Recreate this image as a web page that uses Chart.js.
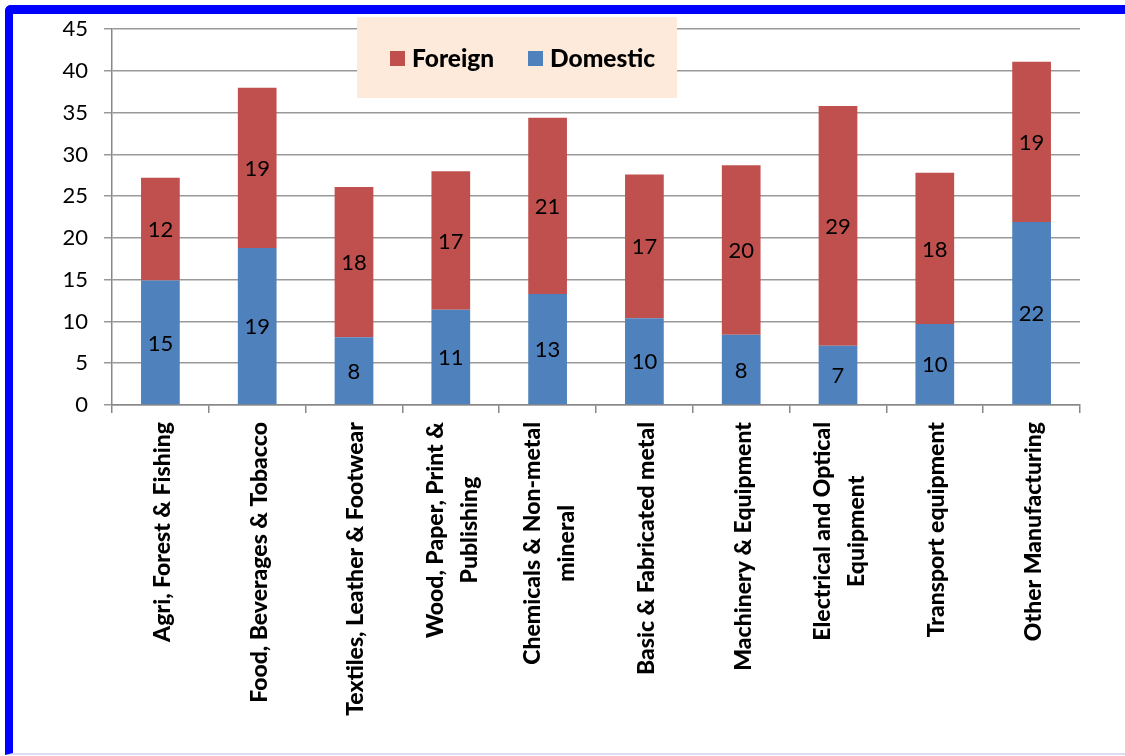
<!DOCTYPE html>
<html>
<head>
<meta charset="utf-8">
<script src="https://cdn.jsdelivr.net/npm/chart.js@4.4.1/dist/chart.umd.min.js"></script>
<style>
  html, body { margin: 0; padding: 0; background: #fff; }
  #wrap { position: relative; width: 1125px; height: 756px; overflow: hidden; }
  #frame { position: absolute; left: 5px; top: 5px; right: -20px; bottom: 1px;
           border-top: 9px solid #0000ff; border-left: 8px solid #0000ff;
           border-bottom: 2px solid #dcdcf5;
           border-top-left-radius: 6px; pointer-events: none; }
  canvas { position: absolute; left: 0; top: 0; }
</style>
</head>
<body>
<div id="wrap">
  <canvas id="c" width="1125" height="756"></canvas>
  <div id="frame"></div>
</div>
<script>
const categories = [
  ["Agri, Forest & Fishing"],
  ["Food, Beverages & Tobacco"],
  ["Textiles, Leather & Footwear"],
  ["Wood, Paper, Print &", "Publishing"],
  ["Chemicals & Non-metal", "mineral"],
  ["Basic & Fabricated metal"],
  ["Machinery & Equipment"],
  ["Electrical and Optical", "Equipment"],
  ["Transport equipment"],
  ["Other Manufacturing"]
];
const domestic = [14.9, 18.8, 8.1, 11.4, 13.3, 10.4, 8.4, 7.1, 9.7, 21.9];
const foreign  = [12.3, 19.2, 18.0, 16.6, 21.1, 17.2, 20.3, 28.7, 18.1, 19.2];
const seriesNames = ["Domestic", "Foreign"];
const legendOrder = ["Foreign", "Domestic"];
const yTicks = { min: 0, max: 45, step: 5 };

const RED = "#C0504D";
const BLUE = "#4F81BD";
const FONT = "Lato, 'Open Sans', sans-serif";

const segmentLabels = {
  id: "segmentLabels",
  afterDatasetsDraw(chart) {
    const ctx = chart.ctx;
    ctx.save();
    ctx.font = "22px " + FONT;
    ctx.fillStyle = "#000";
    ctx.textAlign = "center";
    ctx.textBaseline = "middle";
    chart.data.datasets.forEach((ds, di) => {
      const meta = chart.getDatasetMeta(di);
      meta.data.forEach((bar, i) => {
        const cy = (bar.y + bar.base) / 2;
        ctx.fillText(String(Math.round(ds.data[i])), bar.x, cy + 1);
      });
    });
    ctx.restore();
  }
};

const xLabels = {
  id: "xLabels",
  afterDraw(chart) {
    const ctx = chart.ctx;
    const xs = chart.scales.x;
    const top = chart.chartArea.bottom + 17;
    const gap = 34;
    ctx.save();
    ctx.font = "900 23px " + FONT;
    ctx.fillStyle = "#000";
    ctx.textAlign = "center";
    ctx.textBaseline = "middle";
    categories.forEach((lines, i) => {
      const cx = xs.getPixelForValue(i);
      const maxW = Math.max(...lines.map(l => ctx.measureText(l).width));
      const cy = top + maxW / 2;
      lines.forEach((line, j) => {
        const lx = cx + (j - (lines.length - 1) / 2) * gap + 2;
        ctx.save();
        ctx.translate(lx, cy);
        ctx.rotate(-Math.PI / 2);
        ctx.fillText(line, 0, 0);
        ctx.restore();
      });
    });
    ctx.restore();
  }
};

const boxLegend = {
  id: "boxLegend",
  afterDraw(chart) {
    const ctx = chart.ctx;
    ctx.save();
    ctx.fillStyle = "#FDEADA";
    ctx.fillRect(357, 17, 320, 81);
    ctx.font = "900 24.5px " + FONT;
    ctx.textBaseline = "middle";
    ctx.textAlign = "left";
    const colors = { Foreign: RED, Domestic: BLUE };
    const xs = [390, 528];
    legendOrder.forEach((name, k) => {
      ctx.fillStyle = colors[name];
      ctx.fillRect(xs[k], 51, 15, 15);
      ctx.fillStyle = "#000";
      ctx.fillText(name, xs[k] + 22, 59);
    });
    ctx.restore();
  }
};

new Chart(document.getElementById("c"), {
  type: "bar",
  data: {
    labels: categories,
    datasets: [
      { label: seriesNames[0], data: domestic, backgroundColor: BLUE },
      { label: seriesNames[1], data: foreign, backgroundColor: RED }
    ]
  },
  options: {
    responsive: false,
    animation: false,
    devicePixelRatio: 1,
    layout: { padding: { left: 0, right: 45, top: 28, bottom: 0 } },
    plugins: { legend: { display: false }, tooltip: { enabled: false } },
    datasets: { bar: { barPercentage: 0.4, categoryPercentage: 1.0 } },
    scales: {
      x: {
        stacked: true,
        grid: { offset: true, drawOnChartArea: false, drawTicks: true, tickLength: 8, color: "#888", lineWidth: 1.5 },
        border: { color: "#888", width: 1.5 },
        ticks: { display: false },
        afterFit(s) { s.height = 351; }
      },
      y: {
        stacked: true,
        min: yTicks.min, max: yTicks.max,
        grid: { color: "#999", lineWidth: 1.5, drawTicks: true, tickLength: 8 },
        border: { color: "#888", width: 1.5 },
        ticks: { stepSize: yTicks.step, padding: 16, color: "#000", font: { family: FONT, size: 22 } },
        afterFit(s) { s.width = 112; }
      }
    }
  },
  plugins: [segmentLabels, xLabels, boxLegend]
});
</script>
</body>
</html>
